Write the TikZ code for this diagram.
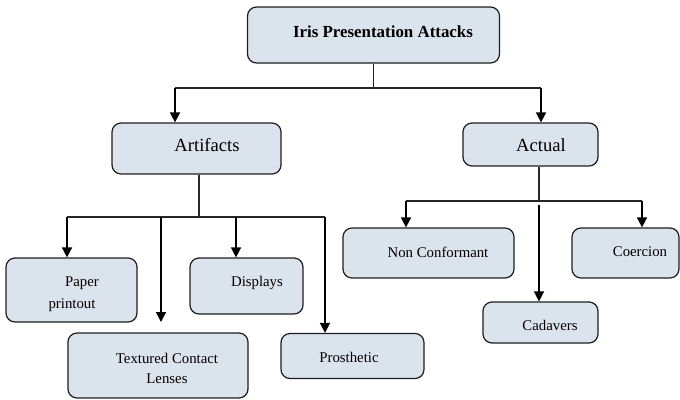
\documentclass[tikz,border=0pt]{standalone}
\usepackage{fontspec}
\setmainfont{Liberation Serif}
\usetikzlibrary{arrows.meta}
\definecolor{boxfill}{RGB}{219,227,237}
\definecolor{boxline}{RGB}{30,30,30}
\tikzset{
  box/.style={draw=boxline, fill=boxfill, line width=1.2pt, rounded corners=9pt, inner sep=0pt},
  lbl/.style={inner sep=0pt, font=\fontsize{14.8}{21.5}\selectfont, align=center},
  conn/.style={line width=1.1pt, draw=black!85},
  arr/.style={line width=1.5pt, -{Triangle[width=10pt,length=10pt]}}
}
\begin{document}
\begin{tikzpicture}[x=1pt,y=-1pt]
\useasboundingbox (0,0) rectangle (680,399);
% boxes (corners in page units, y downwards)
\node[box, fit/.style={}, minimum width=252pt, minimum height=56pt] (iris) at (373.5,35) {};
\node[box, minimum width=169pt, minimum height=51pt] (art) at (196.5,148.5) {};
\node[box, minimum width=135pt, minimum height=43pt] (act) at (530.5,144.5) {};
\node[box, minimum width=131pt, minimum height=64pt] (paper) at (71.5,290) {};
\node[box, minimum width=113pt, minimum height=56pt] (disp) at (246.5,286) {};
\node[box, minimum width=180pt, minimum height=65pt] (tcl) at (158,365.5) {};
\node[box, minimum width=143pt, minimum height=45pt] (pros) at (352.5,356) {};
\node[box, minimum width=171pt, minimum height=50pt] (nc) at (428.5,253) {};
\node[box, minimum width=107pt, minimum height=50pt] (coer) at (625.5,253) {};
\node[box, minimum width=115pt, minimum height=41pt] (cad) at (540.5,322.5) {};
% labels
\node[lbl, font=\bfseries\fontsize{16.9}{20}\selectfont] (t-iris) at (383,32) {Iris Presentation Attacks};
\node[lbl, font=\fontsize{18.6}{22}\selectfont] (t-art) at (207,145) {Artifacts};
\node[lbl, font=\fontsize{18.6}{22}\selectfont] (t-act) at (541,145) {Actual};
\node[lbl] (t-paper1) at (82,283) {Paper};
\node[lbl] (t-paper2) at (72,305) {printout};
\node[lbl] (t-disp) at (257,283) {Displays};
\node[lbl] (t-tcl1) at (167,358) {Textured Contact};
\node[lbl] (t-tcl2) at (167,379) {Lenses};
\node[lbl] (t-pros) at (349,357) {Prosthetic};
\node[lbl] (t-nc) at (438,252) {Non Conformant};
\node[lbl] (t-coer) at (640,252) {Coercion};
\node[lbl] (t-cad) at (550,325) {Cadavers};
% first level
\coordinate (b1l) at (175,88);
\coordinate (b1r) at (541,88);
\draw[conn] (iris.south) -- (iris.south |- b1l);
\draw[conn] (b1l) -- (b1r);
\draw[arr] (b1l) -- (b1l |- art.north);
\draw[arr] (b1r) -- (b1r |- act.north);
% artifacts branch
\coordinate (a0) at (199,217);
\coordinate (al) at (67,217);
\coordinate (ar) at (325,217);
\coordinate (am) at (161,217);
\coordinate (dm) at (236,217);
\coordinate (tclend) at (161,322);
\draw[conn] (a0 |- art.south) -- (a0);
\draw[conn] (al) -- (ar);
\draw[arr] (al) -- (al |- paper.north);
\draw[arr] (am) -- (tclend);
\draw[arr] (dm) -- (dm |- disp.north);
\draw[arr] (ar) -- (ar |- pros.north);
% actual branch
\coordinate (c0) at (539,201);
\coordinate (cl) at (406,201);
\coordinate (cr) at (642,201);
\coordinate (cs) at (539,205);
\draw[conn] (c0 |- act.south) -- (c0);
\draw[conn] (cl) -- (cr);
\draw[arr] (cl) -- (cl |- nc.north);
\draw[arr] (cr) -- (cr |- coer.north);
\draw[arr] (cs) -- (cs |- cad.north);
\end{tikzpicture}
\end{document}
